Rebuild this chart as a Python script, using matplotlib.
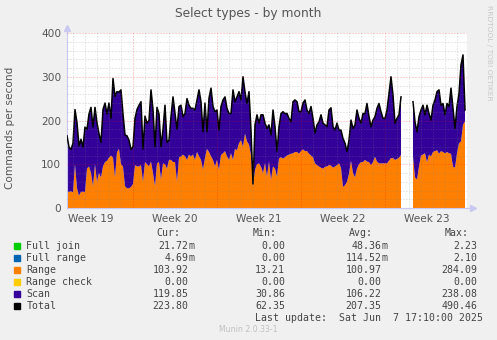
import numpy as np
import matplotlib
matplotlib.use("Agg")
import matplotlib.pyplot as plt
from matplotlib.patches import Rectangle

nan = np.nan

# sampled every 4 hours, month view (commands per second)
total_vals = [165,139,134,148,225,195,142,157,139,185,180,215,230,185,230,195,170,150,225,240,
              215,240,205,296,255,266,265,270,215,167,165,155,134,140,205,225,235,243,135,210,
              194,200,270,225,140,230,215,140,180,235,150,
              155,209,254,216,180,232,235,209,216,250,235,228,228,224,247,270,243,174,240,174,
              251,274,232,220,224,178,232,247,254,228,216,216,270,243,254,266,247,300,265,239,
              266,178,55,190,213,194,213,213,194,182,
              190,167,224,186,129,186,216,220,216,216,205,197,243,247,243,220,220,240,247,224,
              216,232,205,171,190,197,213,194,190,186,224,229,186,178,194,178,178,159,148,129,
              155,201,182,190,224,205,194,216,216,239,
              209,186,201,209,228,239,220,205,205,224,262,300,258,194,205,213,254,
              nan,nan,nan,nan,nan,
              243,197,174,209,224,235,213,235,216,201,235,247,266,270,235,239,213,239,232,274,
              228,182,232,262,327,350,224]

range_vals = [37,37,38,36,100,45,28,37,37,37,90,95,80,50,100,60,80,70,95,105,
              108,115,120,115,70,128,135,100,95,50,45,45,48,55,98,95,95,98,60,105,
              100,95,106,80,50,102,105,65,102,100,90,
              110,110,105,105,60,115,118,122,118,110,122,118,122,110,128,118,110,88,115,135,
              128,118,110,95,110,87,121,125,130,118,110,125,110,135,132,148,155,140,170,152,
              145,120,50,87,100,102,94,80,102,72,
              106,64,95,90,72,113,116,113,116,120,122,124,125,128,128,124,130,134,130,130,
              124,120,116,102,98,95,92,90,94,95,98,97,92,95,98,102,92,48,52,60,
              78,108,80,70,90,100,105,105,110,106,
              105,98,105,117,106,102,102,102,102,102,108,114,114,110,112,115,121,
              nan,nan,nan,nan,nan,
              118,70,65,95,120,122,125,105,122,118,128,130,132,124,130,128,125,128,125,124,
              95,92,125,148,152,190,198]

step_hours = 4
week_labels = ['Week 19', 'Week 20', 'Week 21', 'Week 22', 'Week 23']
week_starts = [5.5, 12.5, 19.5, 26.5]   # days from left edge
y_ticks = [0, 100, 200, 300, 400]

legend_labels = ['Full join', 'Full range', 'Range', 'Range check', 'Scan', 'Total']
legend_colors = ['#00cc00', '#0066b3', '#ff8000', '#ffcc00', '#330099', '#000000']
cur_vals = ['21.72m', '4.69m', '103.92', '0.00', '119.85', '223.80']
min_vals = ['0.00', '0.00', '13.21', '0.00', '30.86', '62.35']
avg_vals = ['48.36m', '114.52m', '100.97', '0.00', '106.22', '207.35']
max_vals = ['2.23', '2.10', '284.09', '0.00', '238.08', '490.46']

W, H = 497, 340
def fx(px): return px / W
def fy(py): return 1 - py / H

tot = np.array(total_vals, dtype=float)
rng = np.array(range_vals, dtype=float)
days = np.arange(len(tot)) * step_hours / 24.0

fig = plt.figure(figsize=(W / 100, H / 100), dpi=100, facecolor='#f0f0f0')
ax = fig.add_axes([fx(67), fy(208), 400 / W, 175 / H])
ax.set_facecolor('white')
ax.set_xlim(0, 400 / 12)
ax.set_ylim(0, 400)

ax.fill_between(days, 0, rng, color='#ff8000', lw=0, zorder=2)
ax.fill_between(days, rng, tot, color='#330099', lw=0, zorder=2)
ax.plot(days, tot, color='black', lw=1.1, zorder=3)

# grid on top like rrdtool
dash = (0, (1, 2))
for d in np.arange(0.5, 400 / 12, 1.0):
    if d in week_starts:
        ax.axvline(d, color='#ff0000', alpha=0.35, lw=0.72, ls=dash, zorder=4)
    else:
        ax.axvline(d, color='#808080', alpha=0.35, lw=0.72, ls=dash, zorder=4)
for v in range(20, 401, 20):
    if v % 100 == 0:
        ax.axhline(v, color='#ff0000', alpha=0.35, lw=0.72, ls=dash, zorder=4)
    else:
        ax.axhline(v, color='#808080', alpha=0.35, lw=0.72, ls=dash, zorder=4)

for s in ['top', 'right']:
    ax.spines[s].set_visible(False)
for s in ['left', 'bottom']:
    ax.spines[s].set_color('#c8c8f0')
    ax.spines[s].set_linewidth(0.8)
ax.plot([0, 0], [1, 1.03], transform=ax.transAxes, color='#c8c8f0', lw=0.8, clip_on=False)
ax.plot([1, 1.015], [0, 0], transform=ax.transAxes, color='#c8c8f0', lw=0.8, clip_on=False)
ax.plot([0], [1.03], marker='^', ms=4, color='#c8c8f0', transform=ax.transAxes, clip_on=False)
ax.plot([1.015], [0], marker='>', ms=4, color='#c8c8f0', transform=ax.transAxes, clip_on=False)

ax.set_yticks(y_ticks)
ax.set_yticklabels([str(t) for t in y_ticks])
ax.set_xticks([w - 3.5 for w in week_starts] + [week_starts[-1] + 3.5])
ax.set_xticklabels(week_labels)
ax.tick_params(axis='both', length=0, labelsize=7.6, labelcolor='#555555', pad=4)

fig.text(0.5, fy(13), 'Select types - by month', ha='center', va='center',
         fontsize=8.8, color='#555555')
fig.text(fx(10), fy(128), 'Commands per second', rotation=90, ha='center',
         va='center', fontsize=7.6, color='#555555')
fig.text(fx(489), fy(5), 'RRDTOOL / TOBI OETIKER', rotation=270, ha='center',
         va='top', fontsize=5.4, color='#c8c8c8')

mono = dict(family='DejaVu Sans Mono', fontsize=7.1, color='#444444', va='center')
cols = [(188.5, 180, 'Cur:', cur_vals), (285, 277, 'Min:', min_vals),
        (381.5, 373, 'Avg:', avg_vals), (477.5, 469, 'Max:', max_vals)]
for num_x, head_x, head, vals in cols:
    fig.text(fx(head_x), fy(233.5), head, ha='right', **mono)
    for i, v in enumerate(vals):
        y = 245.7 + 12 * i
        if v.endswith('m'):
            fig.text(fx(num_x), fy(y), v[:-1], ha='right', **mono)
            fig.text(fx(num_x), fy(y), 'm', ha='left', **mono)
        else:
            fig.text(fx(num_x), fy(y), v, ha='right', **mono)

for i, (lab, col) in enumerate(zip(legend_labels, legend_colors)):
    y = 245.7 + 12 * i
    fig.add_artist(Rectangle((fx(14), fy(y + 3)), 6 / W, 6 / H, color=col,
                             transform=fig.transFigure))
    fig.text(fx(26.5), fy(y), lab, ha='left', **mono)

fig.text(fx(483), fy(317.7), 'Last update:  Sat Jun  7 17:10:00 2025', ha='right', **mono)
fig.text(fx(248.5), fy(329.5), 'Munin 2.0.33-1', ha='center', va='center',
         fontsize=5.6, color='#c0c0c0')

fig.savefig('out.png', dpi=100, facecolor=fig.get_facecolor())
